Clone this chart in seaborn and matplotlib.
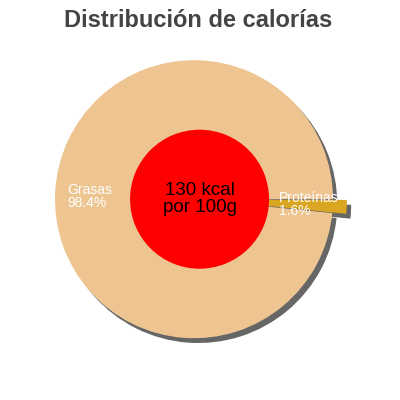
import matplotlib
matplotlib.use("Agg")
import matplotlib.pyplot as plt
import seaborn as sns

# data
labels = ["Proteínas", "Grasas"]
shares = [1.6, 98.4]
slice_colors = ["#DAA520", "#EEC591"]
explode = [0.1, 0.0]
kcal_text = "130 kcal\npor 100g"

sns.set_theme(style="white")
plt.rcParams["font.family"] = ["Liberation Sans", "DejaVu Sans"]

fig = plt.figure(figsize=(4, 4), dpi=100)
ax = fig.add_axes([0.068, 0.085, 0.834, 0.834])

shadow = {"ox": 0.022, "oy": -0.025, "facecolor": "#666666",
          "edgecolor": "none", "alpha": 1}

wedges, _ = ax.pie(
    shares,
    colors=slice_colors,
    explode=explode,
    startangle=0,
    counterclock=False,
    shadow=shadow,
    wedgeprops={"linewidth": 0},
)

# center disc with the energy value
ax.pie([1], colors=["#FF0000"], radius=0.5, center=(0.04, 0),
       shadow={"ox": 0.015, "oy": -0.02, "facecolor": "#777777",
               "edgecolor": "none", "alpha": 1},
       wedgeprops={"linewidth": 0})
ax.text(0.04, 0.0, kcal_text, ha="center", va="center",
        fontsize=13.5, color="black", linespacing=1.0)

# slice labels
ax.text(-0.91, 0.02, f"{labels[1]}\n{shares[1]}%", ha="left", va="center",
        fontsize=10, color="white", linespacing=0.9)
ax.text(0.61, -0.04, f"{labels[0]}\n{shares[0]}%", ha="left", va="center",
        fontsize=10, color="white", linespacing=0.9)

ax.set_xlim(-1.2, 1.2)
ax.set_ylim(-1.2, 1.2)
ax.set_aspect("equal")
ax.axis("off")

fig.text(0.495, 0.948, "Distribución de calorías", ha="center", va="center",
         fontsize=17, fontweight="bold", color="#444444")

fig.savefig("out.png", dpi=100, facecolor="white")
plt.close(fig)
